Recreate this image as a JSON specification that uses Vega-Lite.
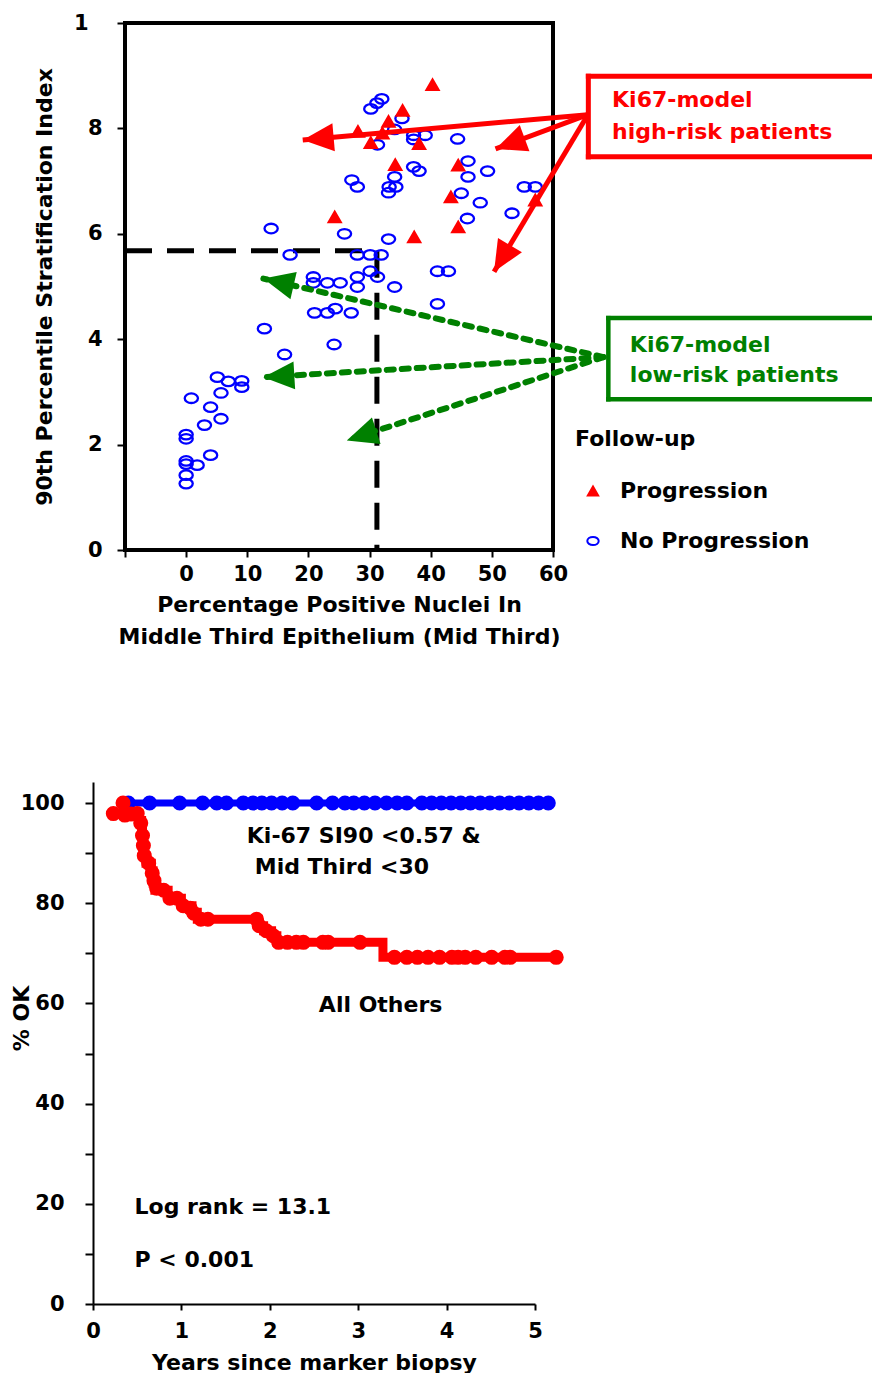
{
  "$schema": "https://vega.github.io/schema/vega-lite/v6.json",
  "background": "white",
  "padding": {"left": 10, "top": 10, "right": 0, "bottom": 0},
  "spacing": 133,
  "config": {
    "font": "DejaVu Sans",
    "view": {"stroke": null},
    "axis": {"grid": false, "labelFontWeight": "bold", "titleFontWeight": "bold", "labelColor": "black", "titleColor": "black", "tickColor": "black", "domainColor": "black", "labelFlush": false, "labelOverlap": false, "labelFont": "DejaVu Sans", "titleFont": "DejaVu Sans"},
    "legend": {"labelFont": "DejaVu Sans", "titleFont": "DejaVu Sans"},
    "text": {"font": "DejaVu Sans", "fontWeight": "bold", "fontSize": 22}
  },
  "vconcat": [
    {
      "width": 428,
      "height": 527,
      "view": {"stroke": "black", "strokeWidth": 4},
      "layer": [
        {
          "data": {"values": [
            {"xa": -10, "ya": 5.68, "xb": 31.2, "yb": 5.68},
            {"xa": 31.2, "ya": 5.68, "xb": 31.2, "yb": 0}
          ]},
          "mark": {"type": "rule", "color": "black", "strokeWidth": 5, "strokeDash": [27, 15]},
          "encoding": {
            "x": {"field": "xa", "type": "quantitative", "scale": {"domain": [-10, 60], "nice": false, "zero": false},
              "axis": {"title": ["Percentage Positive Nuclei In", "Middle Third Epithelium (Mid Third)"], "values": [-10, 0, 10, 20, 30, 40, 50, 60], "labelExpr": "datum.value < 0 ? '' : datum.label", "domain": false, "tickSize": 7, "tickWidth": 2, "labelFontSize": 21, "titleFontSize": 22, "labelPadding": 6, "titlePadding": 10, "titleLineHeight": 32}},
            "y": {"field": "ya", "type": "quantitative", "scale": {"domain": [0, 10], "nice": false, "zero": false},
              "axis": {"title": "90th Percentile Stratification Index", "values": [0, 2, 4, 6, 8, 10], "labelExpr": "datum.value == 10 ? '1' : datum.label", "domain": false, "tickSize": 8, "tickWidth": 2, "labelFontSize": 21, "labelPadding": {"condition": {"test": "datum.value == 10", "value": 29}, "value": 15}, "titleFontSize": 22, "titlePadding": 17}},
            "x2": {"field": "xb"},
            "y2": {"field": "yb"}
          }
        },
        {
          "data": {"values": [
            {"mid": 0, "si": 2.19, "status": "No Progression"},
            {"mid": 0, "si": 2.11, "status": "No Progression"},
            {"mid": 0, "si": 1.69, "status": "No Progression"},
            {"mid": 0, "si": 1.63, "status": "No Progression"},
            {"mid": 0, "si": 1.42, "status": "No Progression"},
            {"mid": 0, "si": 1.26, "status": "No Progression"},
            {"mid": 1.8, "si": 1.61, "status": "No Progression"},
            {"mid": 4.0, "si": 1.80, "status": "No Progression"},
            {"mid": 0.85, "si": 2.88, "status": "No Progression"},
            {"mid": 3.0, "si": 2.37, "status": "No Progression"},
            {"mid": 4.0, "si": 2.71, "status": "No Progression"},
            {"mid": 5.7, "si": 2.98, "status": "No Progression"},
            {"mid": 5.7, "si": 2.49, "status": "No Progression"},
            {"mid": 5.1, "si": 3.28, "status": "No Progression"},
            {"mid": 6.9, "si": 3.20, "status": "No Progression"},
            {"mid": 9.1, "si": 3.21, "status": "No Progression"},
            {"mid": 9.1, "si": 3.09, "status": "No Progression"},
            {"mid": 12.8, "si": 4.20, "status": "No Progression"},
            {"mid": 16.1, "si": 3.71, "status": "No Progression"},
            {"mid": 21.0, "si": 4.50, "status": "No Progression"},
            {"mid": 23.1, "si": 4.50, "status": "No Progression"},
            {"mid": 24.4, "si": 4.58, "status": "No Progression"},
            {"mid": 27.0, "si": 4.50, "status": "No Progression"},
            {"mid": 24.2, "si": 3.90, "status": "No Progression"},
            {"mid": 41.1, "si": 4.67, "status": "No Progression"},
            {"mid": 13.9, "si": 6.10, "status": "No Progression"},
            {"mid": 17.0, "si": 5.60, "status": "No Progression"},
            {"mid": 25.9, "si": 6.00, "status": "No Progression"},
            {"mid": 33.1, "si": 5.90, "status": "No Progression"},
            {"mid": 28.0, "si": 5.60, "status": "No Progression"},
            {"mid": 30.1, "si": 5.60, "status": "No Progression"},
            {"mid": 31.9, "si": 5.60, "status": "No Progression"},
            {"mid": 20.8, "si": 5.18, "status": "No Progression"},
            {"mid": 20.8, "si": 5.07, "status": "No Progression"},
            {"mid": 23.1, "si": 5.07, "status": "No Progression"},
            {"mid": 25.2, "si": 5.07, "status": "No Progression"},
            {"mid": 28.0, "si": 5.18, "status": "No Progression"},
            {"mid": 28.0, "si": 4.99, "status": "No Progression"},
            {"mid": 30.1, "si": 5.29, "status": "No Progression"},
            {"mid": 31.3, "si": 5.18, "status": "No Progression"},
            {"mid": 34.1, "si": 4.99, "status": "No Progression"},
            {"mid": 41.1, "si": 5.29, "status": "No Progression"},
            {"mid": 42.9, "si": 5.29, "status": "No Progression"},
            {"mid": 32.0, "si": 8.56, "status": "No Progression"},
            {"mid": 31.2, "si": 8.48, "status": "No Progression"},
            {"mid": 30.2, "si": 8.37, "status": "No Progression"},
            {"mid": 35.3, "si": 8.19, "status": "No Progression"},
            {"mid": 34.1, "si": 7.98, "status": "No Progression"},
            {"mid": 37.2, "si": 7.87, "status": "No Progression"},
            {"mid": 37.2, "si": 7.79, "status": "No Progression"},
            {"mid": 39.1, "si": 7.87, "status": "No Progression"},
            {"mid": 31.3, "si": 7.69, "status": "No Progression"},
            {"mid": 44.4, "si": 7.80, "status": "No Progression"},
            {"mid": 37.2, "si": 7.27, "status": "No Progression"},
            {"mid": 38.1, "si": 7.19, "status": "No Progression"},
            {"mid": 46.1, "si": 7.38, "status": "No Progression"},
            {"mid": 46.1, "si": 7.08, "status": "No Progression"},
            {"mid": 49.3, "si": 7.19, "status": "No Progression"},
            {"mid": 34.1, "si": 7.08, "status": "No Progression"},
            {"mid": 27.1, "si": 7.02, "status": "No Progression"},
            {"mid": 28.0, "si": 6.89, "status": "No Progression"},
            {"mid": 33.2, "si": 6.89, "status": "No Progression"},
            {"mid": 34.3, "si": 6.89, "status": "No Progression"},
            {"mid": 33.1, "si": 6.78, "status": "No Progression"},
            {"mid": 45.0, "si": 6.77, "status": "No Progression"},
            {"mid": 48.1, "si": 6.59, "status": "No Progression"},
            {"mid": 46.0, "si": 6.29, "status": "No Progression"},
            {"mid": 53.3, "si": 6.39, "status": "No Progression"},
            {"mid": 55.3, "si": 6.89, "status": "No Progression"},
            {"mid": 57.1, "si": 6.89, "status": "No Progression"},
            {"mid": 40.3, "si": 8.83, "status": "Progression"},
            {"mid": 35.4, "si": 8.34, "status": "Progression"},
            {"mid": 33.1, "si": 8.13, "status": "Progression"},
            {"mid": 28.1, "si": 7.94, "status": "Progression"},
            {"mid": 32.1, "si": 7.91, "status": "Progression"},
            {"mid": 30.2, "si": 7.73, "status": "Progression"},
            {"mid": 38.1, "si": 7.71, "status": "Progression"},
            {"mid": 34.2, "si": 7.31, "status": "Progression"},
            {"mid": 44.5, "si": 7.30, "status": "Progression"},
            {"mid": 43.3, "si": 6.70, "status": "Progression"},
            {"mid": 24.3, "si": 6.32, "status": "Progression"},
            {"mid": 44.5, "si": 6.13, "status": "Progression"},
            {"mid": 37.3, "si": 5.94, "status": "Progression"},
            {"mid": 57.1, "si": 6.64, "status": "Progression"}
          ]},
          "mark": {"type": "point", "size": 175, "strokeWidth": 2.3, "opacity": 1},
          "encoding": {
            "x": {"field": "mid", "type": "quantitative"},
            "y": {"field": "si", "type": "quantitative"},
            "shape": {"field": "status", "type": "nominal",
              "scale": {"domain": ["Progression", "No Progression"], "range": ["M0,-0.78L0.9,0.78L-0.9,0.78Z", "M-1,0A1,0.72,0,1,1,1,0A1,0.72,0,1,1,-1,0Z"]},
              "legend": {"title": "Follow-up", "orient": "none", "legendX": 450, "legendY": 406, "titleFontSize": 22, "titleFontWeight": "bold", "titleColor": "black", "labelFontSize": 22, "labelFontWeight": "bold", "labelColor": "black", "symbolSize": 130, "symbolStrokeWidth": 2, "symbolOffset": 7, "labelOffset": 16, "rowPadding": 28, "titlePadding": 29, "padding": 0, "titleLimit": 0, "labelLimit": 0}},
            "fill": {"field": "status", "type": "nominal",
              "scale": {"domain": ["Progression", "No Progression"], "range": ["#ff0000", "transparent"]},
              "legend": {"title": "Follow-up", "orient": "none", "legendX": 450, "legendY": 406, "titleFontSize": 22, "titleFontWeight": "bold", "titleColor": "black", "labelFontSize": 22, "labelFontWeight": "bold", "labelColor": "black", "symbolSize": 130, "symbolStrokeWidth": 2, "symbolOffset": 7, "labelOffset": 16, "rowPadding": 28, "titlePadding": 29, "padding": 0, "titleLimit": 0, "labelLimit": 0}},
            "stroke": {"field": "status", "type": "nominal",
              "scale": {"domain": ["Progression", "No Progression"], "range": ["#ff0000", "#0000ff"]},
              "legend": {"title": "Follow-up", "orient": "none", "legendX": 450, "legendY": 406, "titleFontSize": 22, "titleFontWeight": "bold", "titleColor": "black", "labelFontSize": 22, "labelFontWeight": "bold", "labelColor": "black", "symbolSize": 130, "symbolStrokeWidth": 2, "symbolOffset": 7, "labelOffset": 16, "rowPadding": 28, "titlePadding": 29, "padding": 0, "titleLimit": 0, "labelLimit": 0}}
          }
        },
        {
          "data": {"values": [
            {"xa": 65.78, "ya": 8.99, "xb": 112, "yb": 8.99},
            {"xa": 65.78, "ya": 7.46, "xb": 112, "yb": 7.46},
            {"xa": 65.78, "ya": 7.46, "xb": 65.78, "yb": 8.99}
          ]},
          "mark": {"type": "rule", "color": "#ff0000", "strokeWidth": 5, "strokeCap": "square"},
          "encoding": {"x": {"field": "xa", "type": "quantitative"}, "y": {"field": "ya", "type": "quantitative"}, "x2": {"field": "xb"}, "y2": {"field": "yb"}}
        },
        {
          "data": {"values": [
            {"xa": 69.05, "ya": 4.40, "xb": 112, "yb": 4.40},
            {"xa": 69.05, "ya": 2.86, "xb": 112, "yb": 2.86},
            {"xa": 69.05, "ya": 2.86, "xb": 69.05, "yb": 4.40}
          ]},
          "mark": {"type": "rule", "color": "#008000", "strokeWidth": 4.5, "strokeCap": "square"},
          "encoding": {"x": {"field": "xa", "type": "quantitative"}, "y": {"field": "ya", "type": "quantitative"}, "x2": {"field": "xb"}, "y2": {"field": "yb"}}
        },
        {
          "data": {"values": [
            {"x1": 65.7, "y1": 8.26, "x2": 19.07, "y2": 7.78},
            {"x1": 65.7, "y1": 8.26, "x2": 50.6, "y2": 7.61},
            {"x1": 65.7, "y1": 8.26, "x2": 50.36, "y2": 5.28}
          ]},
          "transform": [{"calculate": "atan2((datum.x2 - datum.x1) * 6.114, (datum.y2 - datum.y1) * 52.7) * 180 / PI", "as": "heading"}],
          "layer": [
            {"mark": {"type": "rule", "color": "#ff0000", "strokeWidth": 5},
             "encoding": {"x": {"field": "x1", "type": "quantitative"}, "y": {"field": "y1", "type": "quantitative"}, "x2": {"field": "x2"}, "y2": {"field": "y2"}}},
            {"mark": {"type": "point", "shape": "M0,0L0.9,2L-0.9,2Z", "size": 961, "filled": true, "color": "#ff0000", "opacity": 1, "strokeWidth": 0},
             "encoding": {"x": {"field": "x2", "type": "quantitative"}, "y": {"field": "y2", "type": "quantitative"}, "angle": {"field": "heading", "type": "quantitative", "scale": null}}}
          ]
        },
        {
          "data": {"values": [
            {"x1": 68.24, "y1": 3.66, "x2": 12.63, "y2": 5.15},
            {"x1": 68.24, "y1": 3.66, "x2": 12.63, "y2": 3.28},
            {"x1": 68.24, "y1": 3.66, "x2": 26.27, "y2": 2.08}
          ]},
          "transform": [{"calculate": "atan2((datum.x2 - datum.x1) * 6.114, (datum.y2 - datum.y1) * 52.7) * 180 / PI", "as": "heading"}],
          "layer": [
            {"mark": {"type": "rule", "color": "#008000", "strokeWidth": 6, "strokeDash": [7, 8], "strokeCap": "round"},
             "encoding": {"x": {"field": "x1", "type": "quantitative"}, "y": {"field": "y1", "type": "quantitative"}, "x2": {"field": "x2"}, "y2": {"field": "y2"}}},
            {"mark": {"type": "point", "shape": "M0,0L0.9,2L-0.9,2Z", "size": 961, "filled": true, "color": "#008000", "opacity": 1, "strokeWidth": 0},
             "encoding": {"x": {"field": "x2", "type": "quantitative"}, "y": {"field": "y2", "type": "quantitative"}, "angle": {"field": "heading", "type": "quantitative", "scale": null}}}
          ]
        },
        {
          "data": {"values": [
            {"tx": 69.66, "ty": 8.54, "label": "Ki67-model"},
            {"tx": 69.66, "ty": 7.93, "label": "high-risk patients"}
          ]},
          "mark": {"type": "text", "color": "#ff0000", "align": "left", "baseline": "middle", "fontSize": 22, "fontWeight": "bold"},
          "encoding": {"x": {"field": "tx", "type": "quantitative"}, "y": {"field": "ty", "type": "quantitative"}, "text": {"field": "label"}}
        },
        {
          "data": {"values": [
            {"tx": 72.57, "ty": 3.89, "label": "Ki67-model"},
            {"tx": 72.57, "ty": 3.32, "label": "low-risk patients"}
          ]},
          "mark": {"type": "text", "color": "#008000", "align": "left", "baseline": "middle", "fontSize": 22, "fontWeight": "bold"},
          "encoding": {"x": {"field": "tx", "type": "quantitative"}, "y": {"field": "ty", "type": "quantitative"}, "text": {"field": "label"}}
        }
      ]
    },
    {
      "width": 410,
      "height": 522,
      "layer": [
        {
          "data": {"values": [{"t": 0.33, "s": 100}, {"t": 5.15, "s": 100}]},
          "mark": {"type": "line", "color": "#0000ff", "strokeWidth": 7},
          "encoding": {
            "x": {"field": "t", "type": "quantitative", "scale": {"domain": [0, 5], "range": [-32, 410], "nice": false, "zero": false},
              "axis": {"title": "Years since marker biopsy", "values": [0, 1, 2, 3, 4, 5], "format": "d", "tickSize": 6, "tickWidth": 2, "domainWidth": 2, "labelFontSize": 21, "titleFontSize": 22, "labelPadding": 10, "titlePadding": 11}},
            "y": {"field": "s", "type": "quantitative", "scale": {"domain": [0, 104.2], "nice": false, "zero": false},
              "axis": {"title": "% OK", "values": [0, 10, 20, 30, 40, 50, 60, 70, 80, 90, 100], "labelExpr": "datum.value % 20 == 0 ? datum.label : ''", "offset": 32, "tickSize": 8, "tickWidth": 2, "domainWidth": 2, "labelFontSize": 21, "labelPadding": 21, "titleFontSize": 22, "titleX": -72, "titleY": 236, "titleAngle": -90, "titleAlign": "center", "titleBaseline": "middle"}}
          }
        },
        {
          "data": {"values": [
            {"t": 0.40, "s": 100}, {"t": 0.64, "s": 100}, {"t": 0.98, "s": 100}, {"t": 1.24, "s": 100},
            {"t": 1.40, "s": 100}, {"t": 1.51, "s": 100}, {"t": 1.70, "s": 100}, {"t": 1.81, "s": 100},
            {"t": 1.91, "s": 100}, {"t": 2.02, "s": 100}, {"t": 2.14, "s": 100}, {"t": 2.26, "s": 100},
            {"t": 2.53, "s": 100}, {"t": 2.71, "s": 100}, {"t": 2.85, "s": 100}, {"t": 2.95, "s": 100},
            {"t": 3.07, "s": 100}, {"t": 3.19, "s": 100}, {"t": 3.32, "s": 100}, {"t": 3.44, "s": 100},
            {"t": 3.55, "s": 100}, {"t": 3.72, "s": 100}, {"t": 3.83, "s": 100}, {"t": 3.94, "s": 100},
            {"t": 4.05, "s": 100}, {"t": 4.16, "s": 100}, {"t": 4.27, "s": 100}, {"t": 4.38, "s": 100},
            {"t": 4.49, "s": 100}, {"t": 4.60, "s": 100}, {"t": 4.71, "s": 100}, {"t": 4.82, "s": 100},
            {"t": 4.93, "s": 100}, {"t": 5.04, "s": 100}, {"t": 5.15, "s": 100}
          ]},
          "mark": {"type": "circle", "color": "#0000ff", "size": 227, "opacity": 1},
          "encoding": {"x": {"field": "t", "type": "quantitative"}, "y": {"field": "s", "type": "quantitative"}}
        },
        {
          "data": {"values": [
            {"t": 0.23, "s": 97.9}, {"t": 0.52, "s": 96.5}, {"t": 0.55, "s": 94.5}, {"t": 0.56, "s": 92.0},
            {"t": 0.57, "s": 89.5}, {"t": 0.60, "s": 88.0}, {"t": 0.66, "s": 86.5}, {"t": 0.68, "s": 84.0},
            {"t": 0.70, "s": 82.6}, {"t": 0.85, "s": 81.0}, {"t": 1.00, "s": 79.5}, {"t": 1.12, "s": 78.2},
            {"t": 1.18, "s": 76.8}, {"t": 1.87, "s": 75.5}, {"t": 1.93, "s": 74.5}, {"t": 2.02, "s": 73.5},
            {"t": 2.08, "s": 72.2}, {"t": 3.28, "s": 69.2}, {"t": 5.25, "s": 69.2}
          ]},
          "mark": {"type": "line", "color": "#ff0000", "strokeWidth": 9, "interpolate": "step-after"},
          "encoding": {"x": {"field": "t", "type": "quantitative"}, "y": {"field": "s", "type": "quantitative"}}
        },
        {
          "data": {"values": [
            {"t": 0.23, "s": 97.9}, {"t": 0.34, "s": 100}, {"t": 0.36, "s": 97.6}, {"t": 0.43, "s": 97.8},
            {"t": 0.50, "s": 97.9}, {"t": 0.54, "s": 96.0}, {"t": 0.56, "s": 93.5}, {"t": 0.57, "s": 91.5},
            {"t": 0.58, "s": 89.5}, {"t": 0.63, "s": 88.0}, {"t": 0.67, "s": 86.0}, {"t": 0.69, "s": 84.5},
            {"t": 0.72, "s": 83.0}, {"t": 0.80, "s": 82.6}, {"t": 0.87, "s": 81.0}, {"t": 0.95, "s": 81.0},
            {"t": 1.02, "s": 79.5}, {"t": 1.10, "s": 79.0}, {"t": 1.14, "s": 78.0}, {"t": 1.22, "s": 76.8},
            {"t": 1.30, "s": 76.8}, {"t": 1.85, "s": 76.8}, {"t": 1.88, "s": 75.5}, {"t": 1.96, "s": 74.5},
            {"t": 2.04, "s": 73.5}, {"t": 2.10, "s": 72.2}, {"t": 2.20, "s": 72.2}, {"t": 2.30, "s": 72.2},
            {"t": 2.38, "s": 72.2}, {"t": 2.60, "s": 72.2}, {"t": 2.66, "s": 72.2}, {"t": 3.02, "s": 72.2},
            {"t": 3.41, "s": 69.2}, {"t": 3.55, "s": 69.2}, {"t": 3.67, "s": 69.2}, {"t": 3.79, "s": 69.2},
            {"t": 3.92, "s": 69.2}, {"t": 4.06, "s": 69.2}, {"t": 4.13, "s": 69.2}, {"t": 4.21, "s": 69.2},
            {"t": 4.33, "s": 69.2}, {"t": 4.51, "s": 69.2}, {"t": 4.66, "s": 69.2}, {"t": 4.72, "s": 69.2},
            {"t": 5.24, "s": 69.2}
          ]},
          "mark": {"type": "circle", "color": "#ff0000", "size": 227, "opacity": 1},
          "encoding": {"x": {"field": "t", "type": "quantitative"}, "y": {"field": "s", "type": "quantitative"}}
        },
        {
          "data": {"values": [
            {"t": 1.74, "s": 93.4, "label": "Ki-67 SI90 <0.57 &"},
            {"t": 1.83, "s": 87.2, "label": "Mid Third <30"},
            {"t": 2.555, "s": 59.7, "label": "All Others"},
            {"t": 0.47, "s": 19.4, "label": "Log rank = 13.1"},
            {"t": 0.47, "s": 8.8, "label": "P < 0.001"}
          ]},
          "mark": {"type": "text", "color": "black", "align": "left", "baseline": "middle", "fontSize": 22, "fontWeight": "bold"},
          "encoding": {"x": {"field": "t", "type": "quantitative"}, "y": {"field": "s", "type": "quantitative"}, "text": {"field": "label"}}
        }
      ]
    }
  ]
}
